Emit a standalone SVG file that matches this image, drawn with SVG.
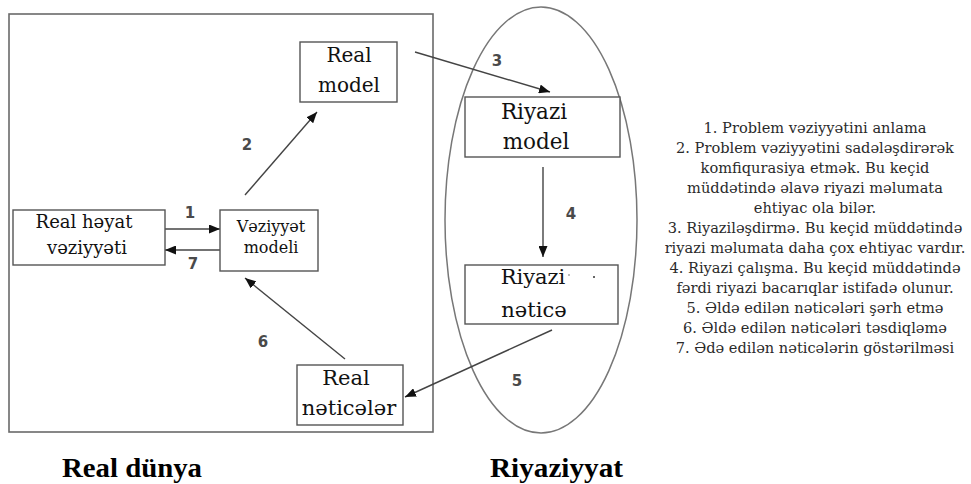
<svg xmlns="http://www.w3.org/2000/svg" width="971" height="484" viewBox="0 0 971 484">
<style>
.box{fill:#fff;stroke:#555;stroke-width:1.4}
.frame{fill:none;stroke:#6a6a6a;stroke-width:1.6}
.ell{fill:none;stroke:#777;stroke-width:1.5}
.bt{font-family:"DejaVu Serif",serif;fill:#111;text-anchor:middle}
.num{font-family:"DejaVu Sans",sans-serif;font-size:15px;font-weight:bold;fill:#4a4a4a;text-anchor:middle}
.con{stroke:#444;stroke-width:1.4;fill:none;marker-end:url(#ah)}
.side{font-family:"DejaVu Serif",serif;font-size:14.6px;fill:#2a2a2a;text-anchor:middle}
.cap{font-family:"Liberation Serif",serif;font-size:28px;font-weight:bold;fill:#000}
</style>
<defs>
<marker id="ah" viewBox="0 0 11 9" refX="11" refY="4.5" markerWidth="11" markerHeight="9" markerUnits="userSpaceOnUse" orient="auto">
<path d="M0,0 L11,4.5 L0,9 z" fill="#111"/>
</marker>
</defs>
<rect class="frame" x="9" y="14" width="424" height="418"/>
<ellipse class="ell" cx="541" cy="220" rx="96" ry="213"/>
<g id="connectors">
<line class="con" x1="165" y1="229" x2="220" y2="229"/>
<line class="con" x1="220" y1="250" x2="165" y2="250"/>
<line class="con" x1="245" y1="195" x2="317" y2="112"/>
<line class="con" x1="415" y1="52" x2="550" y2="92"/>
<line class="con" x1="543" y1="167" x2="543" y2="257"/>
<line class="con" x1="552" y1="330" x2="405" y2="397"/>
<line class="con" x1="345" y1="359" x2="245" y2="278"/>
<text class="num" x="190" y="218">1</text>
<text class="num" x="247" y="150">2</text>
<text class="num" x="497" y="66">3</text>
<text class="num" x="571" y="219">4</text>
<text class="num" x="517" y="386">5</text>
<text class="num" x="263" y="347">6</text>
<text class="num" x="193" y="269">7</text>
</g>
<g id="real-hayat">
<rect class="box" x="13" y="210" width="152" height="55"/>
<text class="bt" font-size="18" x="84" y="228">Real həyat</text>
<text class="bt" font-size="18" x="87" y="254">vəziyyəti</text>
</g>
<g id="veziyyet-modeli">
<rect class="box" x="220" y="210" width="98" height="61"/>
<text class="bt" font-size="16" x="271" y="232">Vəziyyət</text>
<text class="bt" font-size="16" x="271" y="253">modeli</text>
</g>
<g id="real-model">
<rect class="box" x="300" y="42" width="97" height="60"/>
<text class="bt" font-size="20" x="349" y="62">Real</text>
<text class="bt" font-size="20" x="349" y="92">model</text>
</g>
<g id="real-neticeler">
<rect class="box" x="297" y="365" width="106" height="60"/>
<text class="bt" font-size="21" x="346" y="385">Real</text>
<text class="bt" font-size="21" x="349" y="415">nəticələr</text>
</g>
<g id="riyazi-model">
<rect class="box" x="465" y="97" width="155" height="60"/>
<text class="bt" font-size="21.5" x="534" y="119">Riyazi</text>
<text class="bt" font-size="21.5" x="536" y="149">model</text>
</g>
<g id="riyazi-netice">
<rect class="box" x="465" y="265" width="153" height="59"/>
<text class="bt" font-size="21" x="533" y="284">Riyazi</text>
<text class="bt" font-size="21" x="534" y="317">nəticə</text>
<circle cx="569" cy="275" r="0.8" fill="#666"/>
<circle cx="594" cy="277" r="1" fill="#333"/>
</g>
<g id="legend">
<text class="side" x="815" y="133">1. Problem vəziyyətini anlama</text>
<text class="side" x="815" y="153">2. Problem vəziyyətini sadələşdirərək</text>
<text class="side" x="815" y="173">komfiqurasiya etmək. Bu keçid</text>
<text class="side" x="815" y="193">müddətində əlavə riyazi məlumata</text>
<text class="side" x="815" y="213">ehtiyac ola bilər.</text>
<text class="side" x="815" y="233">3. Riyaziləşdirmə. Bu keçid müddətində</text>
<text class="side" x="815" y="253">riyazi məlumata daha çox ehtiyac vardır.</text>
<text class="side" x="815" y="273">4. Riyazi çalışma. Bu keçid müddətində</text>
<text class="side" x="815" y="293">fərdi riyazi bacarıqlar istifadə olunur.</text>
<text class="side" x="815" y="313">5. Əldə edilən nəticələri şərh etmə</text>
<text class="side" x="815" y="333">6. Əldə edilən nəticələri təsdiqləmə</text>
<text class="side" x="815" y="353">7. Ədə edilən nəticələrin göstərilməsi</text>
</g>
<text class="cap" x="62" y="477" textLength="140" lengthAdjust="spacingAndGlyphs">Real dünya</text>
<text class="cap" x="490" y="477" textLength="133" lengthAdjust="spacingAndGlyphs">Riyaziyyat</text>
</svg>
